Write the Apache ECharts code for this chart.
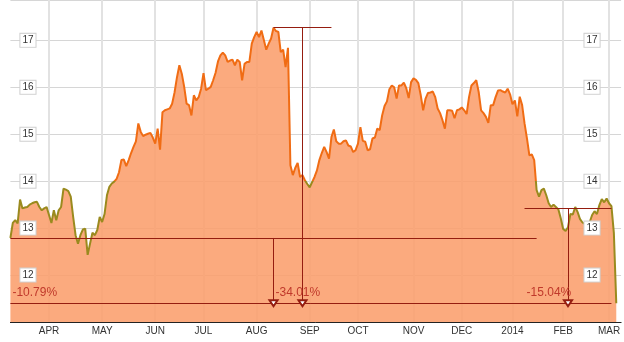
<!DOCTYPE html>
<html><head><meta charset="utf-8">
<script src="https://cdn.jsdelivr.net/npm/echarts@6/dist/echarts.min.js"></script>
<style>html,body{margin:0;padding:0;background:#fff}#chart{width:624px;height:342px}</style>
</head><body><div id="chart"></div>
<script>
// trading-day slots on the x axis (index 0 = first session shown)
const dayCount = 254;
// month labels and the trading-day index where each month starts
const monthLabels = ['APR','MAY','JUN','JUL','AUG','SEP','OCT','NOV','DEC','2014','FEB','MAR'];
const monthStartDays = [16, 38, 60, 80, 102, 124, 144, 167, 187, 208, 229, 248];
// y tick labels
const yTickLabels = [12, 13, 14, 15, 16, 17];
// daily closing price, one value per trading day
const prices = [
 12.79,13.11,13.17,13.10,13.61,13.42,13.44,13.45,13.50,13.53,
 13.55,13.56,13.45,13.38,13.42,13.45,13.28,13.11,13.38,13.17,
 13.38,13.45,13.84,13.82,13.79,13.67,13.24,12.85,12.67,12.85,
 12.97,12.99,12.43,12.67,12.90,12.85,12.96,13.24,13.13,13.30,
 13.70,13.88,13.95,13.99,14.05,14.19,14.45,14.46,14.32,14.45,
 14.60,14.73,14.85,15.23,15.05,14.96,14.99,15.01,15.03,14.93,
 14.80,15.12,14.67,15.47,15.51,15.53,15.55,15.65,15.89,16.21,
 16.47,16.29,16.01,15.65,15.62,15.40,15.83,15.72,15.79,15.97,
 16.30,15.94,15.97,16.01,16.15,16.31,16.55,16.68,16.74,16.68,
 16.54,16.57,16.59,16.47,16.59,16.54,16.15,16.50,16.54,16.54,
 16.93,17.07,17.18,17.07,17.21,17.01,16.80,16.93,17.04,17.27,
 17.20,17.18,16.75,16.80,16.43,16.84,14.34,14.13,14.28,14.39,
 14.09,14.13,14.02,13.94,13.87,13.98,14.09,14.23,14.45,14.60,
 14.73,14.62,14.48,14.94,15.10,14.85,14.80,14.80,14.85,14.87,
 14.76,14.74,14.62,14.66,14.80,15.15,14.86,14.84,14.66,14.68,
 14.91,14.93,15.12,15.09,15.40,15.60,15.70,15.96,16.04,16.00,
 15.76,16.04,16.04,16.10,15.98,15.77,16.11,16.19,16.16,16.09,
 15.83,15.51,15.76,15.88,15.89,15.91,15.79,15.55,15.45,15.30,
 15.12,15.51,15.51,15.50,15.34,15.51,15.53,15.57,15.51,15.43,
 15.79,16.04,16.09,16.15,15.90,15.51,15.45,15.37,15.24,15.62,
 15.62,15.79,15.93,15.94,15.91,15.89,15.97,15.85,15.64,15.72,
 15.38,15.80,15.62,15.23,14.91,14.55,14.57,14.45,13.81,13.67,
 13.81,13.84,13.70,13.53,13.45,13.50,13.45,13.40,13.21,12.98,
 12.94,13.02,13.30,13.29,13.45,13.34,13.19,13.12,13.09,13.09,
 13.13,13.28,13.36,13.30,13.49,13.62,13.55,13.63,13.53,13.47,
 12.90,11.40
];
// drawdown reference levels
const startLevel = 12.79;
const peakLevel = 17.27;
const recentLevel = 13.42;
const endLevel = 11.40;
const colourSplitLevel = 14;
const drawdownLabels = ['-10.79%', '-34.01%', '-15.04%'];

const categories = [];
for (let i = 0; i < dayCount; i++) categories.push(String(i));
const labelAt = {};
monthStartDays.forEach((d, k) => { labelAt[d] = monthLabels[k]; });
const isMonthStart = (idx) => labelAt[idx] !== undefined;

const RED = '#951d10';
const ORANGE = '#f06c14';
const OLIVE = '#9a8a1e';
const FONT = '"Liberation Sans", Arial, sans-serif';
const Y_MIN = 11, Y_MAX = 17.86;

const yLabelStyle = {
  inside: true, color: '#333', fontSize: 10, fontFamily: FONT,
  backgroundColor: '#fff', borderColor: '#cfcfcf', borderWidth: 1,
  padding: [2, 2, 1, 2], customValues: yTickLabels
};

const hLine = (x0, x1, v) => [{ coord: [x0, v] }, { coord: [x1, v] }];
const arrow = (x, v0, v1) => [
  { coord: [x, v0], symbol: 'none' },
  { coord: [x, v1], symbol: 'emptyTriangle', symbolSize: [8, 6] }
];
const ddLabel = (x, text) => ({
  coord: [x, endLevel], name: text,
  label: { formatter: text }
});

const el = document.getElementById('chart');
const chart = echarts.init(el, null, { renderer: 'canvas' });
chart.setOption({
  animation: false,
  backgroundColor: '#fff',
  grid: { left: 10.4, right: 2.9, top: 0, bottom: 20, outerBoundsMode: 'none', containLabel: false },
  xAxis: {
    type: 'category', data: categories, boundaryGap: false,
    axisLine: { lineStyle: { color: '#222', width: 1 } },
    axisTick: { show: false },
    axisLabel: {
      interval: (idx) => isMonthStart(idx),
      formatter: (val, idx) => labelAt[idx] || '',
      color: '#333', fontSize: 10, fontFamily: FONT, margin: 4
    },
    splitLine: { show: true, interval: (idx) => isMonthStart(idx), lineStyle: { color: '#e2e2e2', width: 2 } }
  },
  yAxis: [
    {
      type: 'value', position: 'left', min: Y_MIN, max: Y_MAX, interval: 1,
      axisLine: { show: false }, axisTick: { show: false },
      splitLine: { show: true, lineStyle: { color: '#d6d6d6', width: 1 } },
      axisLabel: { show: false }, z: 0
    },
    {
      type: 'value', position: 'left', min: Y_MIN, max: Y_MAX, interval: 1,
      axisLine: { show: false }, axisTick: { show: false },
      splitLine: { show: false }, z: 5,
      axisLabel: Object.assign({ margin: 10 }, yLabelStyle)
    },
    {
      type: 'value', position: 'right', min: Y_MIN, max: Y_MAX, interval: 1,
      axisLine: { show: false }, axisTick: { show: false },
      splitLine: { show: false }, z: 5,
      axisLabel: Object.assign({ margin: 21.5 }, yLabelStyle)
    }
  ],
  series: [
    {
      id: 'price',
      type: 'line', data: prices, showSymbol: false, symbol: 'none',
      lineStyle: { width: 2, color: ORANGE },
      areaStyle: { color: 'rgba(251,158,108,0.88)', opacity: 1, origin: 'start' },
      z: 2,
      markLine: {
        silent: true, animation: false, symbol: 'none',
        lineStyle: { color: RED, width: 1, type: 'solid' },
        label: { show: false },
        emphasis: { disabled: true },
        data: [
          hLine(0, 218, startLevel),
          hLine(0, 249, endLevel),
          hLine(109, 133, peakLevel),
          hLine(213, 249, recentLevel),
          arrow(109, startLevel, endLevel),
          arrow(121, peakLevel, endLevel),
          arrow(231, recentLevel, endLevel)
        ]
      },
      markPoint: {
        silent: true, animation: false, symbol: 'circle', symbolSize: 1,
        itemStyle: { color: 'rgba(0,0,0,0)' },
        label: {
          show: true, position: 'right', distance: 1.5, offset: [0, -11],
          color: '#c0392b', fontSize: 12, fontFamily: FONT
        },
        data: [
          ddLabel(0, drawdownLabels[0]),
          ddLabel(109, drawdownLabels[1]),
          ddLabel(213, drawdownLabels[2])
        ]
      }
    },
    { type: 'line', yAxisIndex: 1, data: [], showSymbol: false },
    { type: 'line', yAxisIndex: 2, data: [], showSymbol: false }
  ]
});

// colour the line olive below the split level, orange above it (via the axis scale)
const splitY = chart.convertToPixel({ yAxisIndex: 0 }, colourSplitLevel);
const h = el.clientHeight;
const t = splitY / h;
chart.setOption({
  series: [{
    id: 'price',
    lineStyle: {
      color: new echarts.graphic.LinearGradient(0, 0, 0, h, [
        { offset: 0, color: ORANGE },
        { offset: t, color: ORANGE },
        { offset: t, color: OLIVE },
        { offset: 1, color: OLIVE }
      ], true)
    }
  }]
});
</script>
</body></html>
